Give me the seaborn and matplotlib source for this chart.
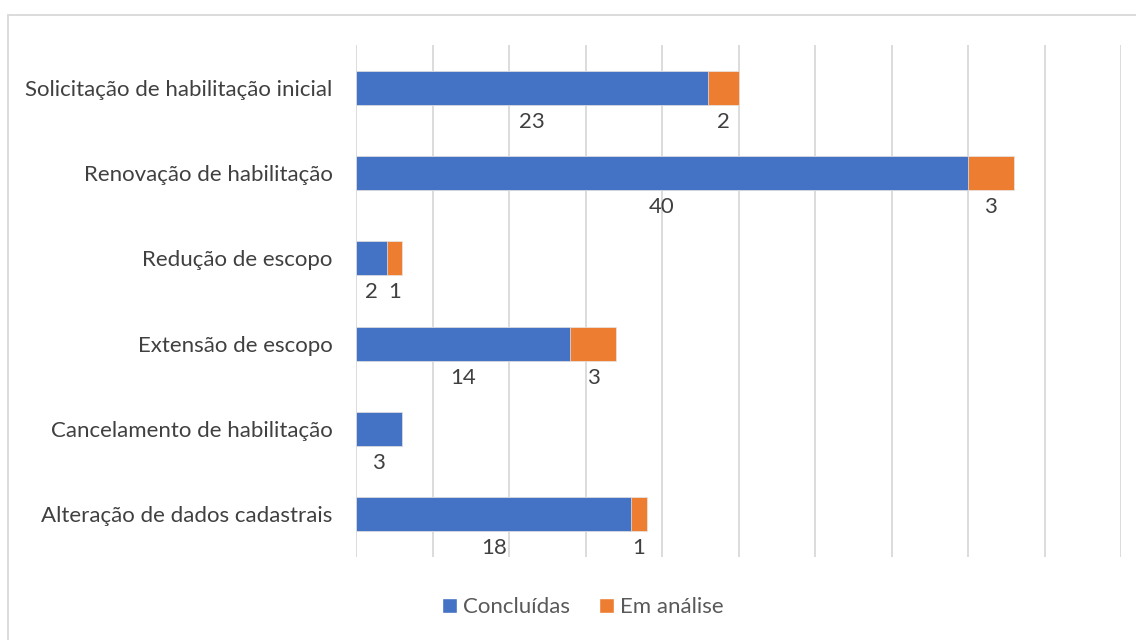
import matplotlib
matplotlib.use("Agg")
import matplotlib.pyplot as plt
import seaborn as sns
import pandas as pd
from matplotlib.lines import Line2D
from matplotlib.patches import Patch

categories = ["Solicitação de habilitação inicial", "Renovação de habilitação",
              "Redução de escopo", "Extensão de escopo",
              "Cancelamento de habilitação", "Alteração de dados cadastrais"]
concluidas = [23, 40, 2, 14, 3, 18]
em_analise = [2, 3, 1, 3, 0, 1]
series_names = ["Concluídas", "Em análise"]
colors = ["#4472C4", "#ED7D31"]

sns.set_theme(style="white")
plt.rcParams['font.family'] = ['Lato', 'DejaVu Sans']

FS = 16

fig = plt.figure(figsize=(11.36, 6.4), dpi=100)
ax = fig.add_axes([356/1136, 1-557/640, (1121-356)/1136, (557-45)/640])

df = pd.DataFrame({"cat": categories, "c": concluidas, "e": em_analise})
df["total"] = df["c"] + df["e"]

sns.barplot(data=df, y="cat", x="total", color=colors[1], width=0.4, ax=ax,
            orient="h", saturation=1, order=categories, linewidth=0.5, edgecolor="#E8E8E8")
sns.barplot(data=df, y="cat", x="c", color=colors[0], width=0.4, ax=ax,
            orient="h", saturation=1, order=categories, linewidth=0.5, edgecolor="#E8E8E8")

ax.set_xlim(0, 50)
ax.set_ylim(5.5, -0.5)
ax.set_xticks(range(0, 51, 5))
ax.set_xticklabels([])
ax.grid(axis="x", color="#D9D9D9", linewidth=1.3)
ax.set_axisbelow(True)
for s in ax.spines.values():
    s.set_visible(False)
ax.set_xlabel("")
ax.set_ylabel("")
ax.tick_params(axis="y", length=0, pad=17, labelsize=FS, labelcolor="#404040")
ax.tick_params(axis="x", length=0)

for i, (c, e) in enumerate(zip(concluidas, em_analise)):
    if c > 0:
        ax.text(c / 2, i + 0.40, str(c), ha="center", va="center",
                fontsize=FS, color="#404040")
    if e > 0:
        ax.text(c + e / 2, i + 0.40, str(e), ha="center", va="center",
                fontsize=FS, color="#404040")

handles = [Patch(facecolor=colors[0]), Patch(facecolor=colors[1])]
fig.legend(handles, series_names, loc="center", bbox_to_anchor=(583/1136, 1-607/640),
           ncol=2, frameon=False, fontsize=FS, handlelength=0.65, handleheight=0.65,
           handletextpad=0.3, columnspacing=1.3, labelcolor="#595959")

fig.add_artist(Line2D([8/1136, 8/1136], [0, 1-15/640], transform=fig.transFigure,
                      color="#D9D9D9", linewidth=1.3))
fig.add_artist(Line2D([8/1136, 1], [1-15/640, 1-15/640], transform=fig.transFigure,
                      color="#D9D9D9", linewidth=1.3))

fig.savefig("out.png", dpi=100, facecolor="white")
